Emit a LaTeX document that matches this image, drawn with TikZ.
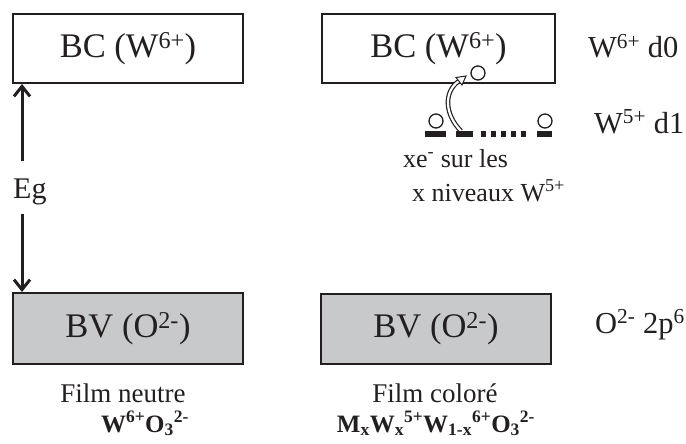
\documentclass[tikz,border=0pt]{standalone}
\usepackage{fontspec}
\setmainfont{Liberation Serif}
\usetikzlibrary{arrows.meta}
\definecolor{bvgray}{RGB}{200,201,203}
\definecolor{ink}{RGB}{35,31,32}
\begin{document}
\begin{tikzpicture}[x=1pt,y=-1pt,
  band/.style={draw=ink,line width=2pt,inner sep=0pt,text=ink,
    font=\fontsize{34.5}{36}\selectfont},
  side/.style={anchor=base west,inner sep=0pt,text=ink,
    font=\fontsize{30.5}{34}\selectfont},
  note/.style={anchor=base west,inner sep=0pt,text=ink,
    font=\fontsize{26}{30}\selectfont},
  film/.style={anchor=base,inner sep=0pt,text=ink,
    font=\fontsize{27}{30}\selectfont},
  formula/.style={anchor=base,inner sep=0pt,text=ink,
    font=\fontsize{25}{28}\selectfont\bfseries},
  gap/.style={draw=ink,line width=3pt,-{Straight Barb[length=10pt,width=16pt]}},
  level/.style={fill=ink,inner sep=0pt,minimum height=6pt},
  electron/.style={circle,draw=ink,fill=white,line width=1.3pt,inner sep=0pt,minimum size=14pt},
  dotsq/.style={fill=ink,inner sep=0pt,minimum width=5pt,minimum height=6pt}
]
\useasboundingbox (0,0) rectangle (686,444);

% bands
\node[band,minimum width=230pt,minimum height=69pt] (bc1) at (128,48.5) {BC (W\textsuperscript{6+})};
\node[band,minimum width=233pt,minimum height=69pt] (bc2) at (438.5,48.5) {BC (W\textsuperscript{6+})};
\node[band,fill=bvgray,minimum width=230pt,minimum height=71pt] (bv1) at (128,328.5) {BV (O\textsuperscript{2-})};
\node[band,fill=bvgray,minimum width=230pt,minimum height=70pt] (bv2) at (436,329) {BV (O\textsuperscript{2-})};

% side labels
\node[side] (d0) at (588,58) {W\textsuperscript{6+} d0};
\node[side] (d1) at (594,133) {W\textsuperscript{5+} d1};
\node[side] (p6) at (595,333) {O\textsuperscript{2-} 2p\textsuperscript{6}};

% gap
\node[anchor=base west,inner sep=0pt,text=ink,font=\fontsize{30}{33}\selectfont] (eg) at (13,198) {Eg};
\coordinate (egtop) at (22,161);
\coordinate (egbot) at (22,214);
\draw[gap] (egtop) -- (egtop |- bc1.south);
\draw[gap] (egbot) -- (egbot |- bv1.north);

% curved hollow arrow
\coordinate (cs) at (461,131);
\coordinate (ce) at (459,81);
\draw[ink,line width=4.6pt] (cs) .. controls (445,115) and (443,92) .. (ce);
\draw[white,line width=2.2pt] (cs) .. controls (445,115) and (443,92) .. (ce);
\filldraw[fill=white,draw=ink,line width=1pt] (466,76) -- (462,85) -- (456,77.5) -- cycle;
\node[electron] (etop) at (478,73) {};

% levels
\node[level,minimum width=21pt] (l1) at (435.5,134) {};
\node[level,minimum width=17pt] (l2) at (464.5,134) {};
\node[level,minimum width=15pt] (l3) at (544.5,134) {};
\foreach \i/\x in {1/483,2/493,3/503,4/513,5/523}
  \node[dotsq] (q\i) at (\x,134) {};
\node[electron] (e1) at (436,121) {};
\node[electron] (e3) at (545,121) {};

% notes
\node[note] (xe) at (403,167) {xe\textsuperscript{-} sur les};
\node[note] (niv) at (412,201) {x niveaux W\textsuperscript{5+}};

% films
\node[film] (fn) at (123,402) {Film neutre};
\node[film] (fc) at (435,402) {Film coloré};
\node[formula] (f1) at (145,432) {W\textsuperscript{6+}O\textsubscript{3}\textsuperscript{2-}};
\node[formula] (f2) at (436,432) {M\textsubscript{x}W\textsubscript{x}\textsuperscript{5+}W\textsubscript{1-x}\textsuperscript{6+}O\textsubscript{3}\textsuperscript{2-}};
\end{tikzpicture}
\end{document}
